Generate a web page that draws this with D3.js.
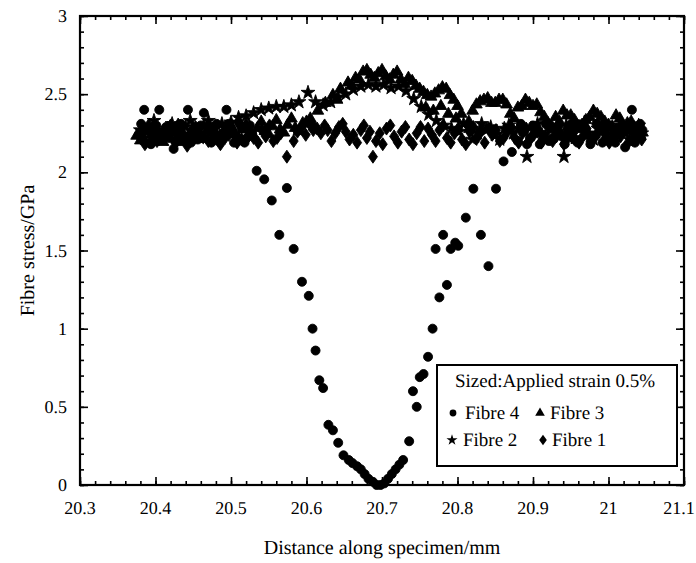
<!DOCTYPE html>
<html>
<head>
<meta charset="utf-8">
<script src="https://cdn.jsdelivr.net/npm/d3@7"></script>
<style>
  html, body { margin: 0; padding: 0; background: #fff; }
  svg { display: block; }
  text { text-rendering: geometricPrecision; }
</style>
</head>
<body>
<svg id="chart" width="696" height="563"></svg>
<script>
// Fibre stress along the specimen, sized fibres at 0.5 % applied strain.
// Each series: [distance (mm), stress (GPa)]

const fibre4 = [
  [20.378, 2.24], [20.385, 2.40], [20.390, 2.28], [20.398, 2.21], [20.405, 2.40],
  [20.410, 2.26], [20.418, 2.22], [20.424, 2.15], [20.430, 2.27], [20.437, 2.23],
  [20.443, 2.40], [20.450, 2.25], [20.456, 2.21], [20.464, 2.38], [20.470, 2.27],
  [20.477, 2.24], [20.484, 2.20], [20.494, 2.40], [20.500, 2.26], [20.507, 2.23],
  [20.514, 2.28], [20.521, 2.22], [20.528, 2.25],
  [20.381, 2.31], [20.394, 2.18], [20.401, 2.30], [20.414, 2.29], [20.427, 2.20],
  [20.434, 2.31], [20.447, 2.19], [20.460, 2.30], [20.474, 2.19], [20.481, 2.31],
  [20.490, 2.23], [20.497, 2.31], [20.504, 2.19], [20.511, 2.31], [20.518, 2.19],
  [20.525, 2.30],
  [20.534, 2.01], [20.544, 1.955], [20.554, 1.82], [20.564, 1.60], [20.574, 1.90],
  [20.583, 1.51], [20.594, 1.30], [20.603, 1.21], [20.608, 1.00], [20.612, 0.86],
  [20.617, 0.67], [20.622, 0.62], [20.629, 0.385], [20.635, 0.35], [20.642, 0.27],
  [20.649, 0.19], [20.656, 0.16], [20.661, 0.14], [20.667, 0.12], [20.672, 0.10],
  [20.677, 0.07], [20.682, 0.04], [20.688, 0.02], [20.693, 0.00], [20.698, 0.00],
  [20.703, 0.01], [20.708, 0.04], [20.713, 0.07], [20.718, 0.10], [20.723, 0.13],
  [20.728, 0.16], [20.736, 0.28], [20.741, 0.60], [20.746, 0.50], [20.750, 0.69],
  [20.755, 0.71], [20.761, 0.82], [20.767, 1.00], [20.771, 1.51], [20.776, 1.20],
  [20.781, 1.60], [20.786, 1.28], [20.791, 1.51], [20.797, 1.55], [20.801, 1.53],
  [20.811, 1.71], [20.821, 1.895], [20.831, 1.60], [20.841, 1.40], [20.851, 1.895],
  [20.861, 2.07], [20.872, 2.13],
  [20.880, 2.20], [20.888, 2.26], [20.896, 2.22], [20.905, 2.28], [20.913, 2.24],
  [20.921, 2.20], [20.930, 2.27], [20.938, 2.23], [20.946, 2.26], [20.955, 2.21],
  [20.963, 2.28], [20.971, 2.24], [20.980, 2.22], [20.988, 2.27], [20.996, 2.25],
  [21.005, 2.21], [21.013, 2.26], [21.022, 2.16], [21.031, 2.40], [21.038, 2.24],
  [21.045, 2.27],
  [20.884, 2.31], [20.892, 2.18], [20.900, 2.30], [20.909, 2.18], [20.917, 2.31],
  [20.926, 2.22], [20.934, 2.30], [20.942, 2.18], [20.951, 2.31], [20.959, 2.19],
  [20.967, 2.30], [20.976, 2.18], [20.984, 2.31], [20.992, 2.19], [21.001, 2.30],
  [21.009, 2.19], [21.017, 2.30], [21.027, 2.27], [21.035, 2.19], [21.042, 2.31]
];

const fibre3 = [
  [20.375, 2.24], [20.385, 2.27], [20.395, 2.22], [20.405, 2.26], [20.415, 2.24],
  [20.425, 2.28], [20.435, 2.23], [20.445, 2.25], [20.455, 2.27], [20.465, 2.22],
  [20.475, 2.26], [20.485, 2.24], [20.495, 2.28], [20.505, 2.25], [20.515, 2.28],
  [20.525, 2.26], [20.535, 2.29], [20.545, 2.27], [20.555, 2.30], [20.565, 2.28],
  [20.575, 2.31], [20.585, 2.29], [20.595, 2.32], [20.605, 2.35], [20.615, 2.40],
  [20.625, 2.45], [20.635, 2.50], [20.645, 2.54], [20.655, 2.58], [20.665, 2.61],
  [20.675, 2.65], [20.685, 2.63], [20.695, 2.64], [20.705, 2.62], [20.715, 2.63],
  [20.725, 2.60], [20.735, 2.61], [20.745, 2.56], [20.755, 2.52], [20.765, 2.49],
  [20.775, 2.53], [20.785, 2.54], [20.795, 2.47], [20.805, 2.38], [20.815, 2.33],
  [20.825, 2.44], [20.835, 2.47], [20.845, 2.45], [20.855, 2.47], [20.865, 2.44],
  [20.875, 2.35], [20.885, 2.43], [20.895, 2.45], [20.905, 2.44], [20.915, 2.36],
  [20.925, 2.30], [20.935, 2.33], [20.945, 2.37], [20.955, 2.34], [20.965, 2.31],
  [20.975, 2.36], [20.985, 2.38], [20.995, 2.33], [21.005, 2.30], [21.015, 2.35],
  [21.025, 2.32], [21.035, 2.29], [21.045, 2.26],
  [20.380, 2.21], [20.390, 2.30], [20.400, 2.25], [20.410, 2.20], [20.420, 2.26],
  [20.430, 2.31], [20.440, 2.20], [20.450, 2.29], [20.460, 2.24], [20.470, 2.30],
  [20.480, 2.21], [20.490, 2.27], [20.500, 2.30], [20.510, 2.22], [20.520, 2.31],
  [20.530, 2.24], [20.540, 2.33], [20.550, 2.25], [20.560, 2.34], [20.570, 2.26],
  [20.580, 2.35], [20.590, 2.27], [20.600, 2.33], [20.610, 2.30],
  [20.640, 2.47], [20.660, 2.56], [20.670, 2.60], [20.680, 2.66], [20.690, 2.61],
  [20.700, 2.66], [20.710, 2.60], [20.720, 2.65], [20.730, 2.57], [20.740, 2.59],
  [20.750, 2.54], [20.760, 2.50], [20.770, 2.51], [20.780, 2.55], [20.790, 2.50],
  [20.800, 2.43], [20.820, 2.40], [20.830, 2.46], [20.840, 2.48], [20.850, 2.45],
  [20.860, 2.47], [20.870, 2.38], [20.880, 2.42], [20.890, 2.47], [20.900, 2.43],
  [20.910, 2.39], [20.920, 2.32], [20.930, 2.36], [20.940, 2.40], [20.950, 2.37],
  [20.960, 2.30], [20.970, 2.34], [20.980, 2.40], [20.990, 2.36], [21.000, 2.31],
  [21.010, 2.37], [21.020, 2.30], [21.030, 2.33], [21.040, 2.28],
  [20.758, 2.42], [20.768, 2.40], [20.778, 2.43], [20.788, 2.38], [20.798, 2.35]
];

const fibre2 = [
  [20.380, 2.27], [20.392, 2.30], [20.404, 2.25], [20.416, 2.28], [20.428, 2.24],
  [20.440, 2.29], [20.452, 2.26], [20.464, 2.30], [20.476, 2.27], [20.488, 2.31],
  [20.500, 2.32], [20.510, 2.35], [20.520, 2.36], [20.530, 2.38], [20.540, 2.40],
  [20.550, 2.41], [20.560, 2.42], [20.570, 2.42], [20.580, 2.43], [20.590, 2.45],
  [20.602, 2.51], [20.612, 2.45], [20.622, 2.43], [20.632, 2.45], [20.642, 2.48],
  [20.652, 2.50], [20.662, 2.53], [20.672, 2.55], [20.682, 2.56], [20.692, 2.55],
  [20.702, 2.56], [20.712, 2.54], [20.722, 2.55], [20.732, 2.52], [20.742, 2.47],
  [20.752, 2.42], [20.762, 2.37], [20.772, 2.33], [20.782, 2.30], [20.792, 2.28],
  [20.802, 2.26], [20.814, 2.29], [20.826, 2.25], [20.838, 2.27], [20.850, 2.24],
  [20.862, 2.28], [20.874, 2.25], [20.892, 2.10], [20.900, 2.27], [20.912, 2.24],
  [20.924, 2.28], [20.941, 2.10], [20.950, 2.26], [20.962, 2.29], [20.974, 2.25],
  [20.986, 2.28], [20.998, 2.24], [21.010, 2.27], [21.022, 2.25], [21.034, 2.28],
  [21.044, 2.25],
  [20.386, 2.22], [20.398, 2.33], [20.410, 2.21], [20.422, 2.31], [20.434, 2.20],
  [20.446, 2.33], [20.458, 2.22], [20.470, 2.33], [20.482, 2.23], [20.494, 2.28],
  [20.808, 2.31], [20.820, 2.21], [20.832, 2.31], [20.844, 2.29], [20.856, 2.21],
  [20.868, 2.30], [20.880, 2.28], [20.906, 2.31], [20.918, 2.21], [20.930, 2.25],
  [20.944, 2.30], [20.956, 2.22], [20.968, 2.32], [20.980, 2.21], [20.992, 2.31],
  [21.004, 2.21], [21.016, 2.30], [21.028, 2.21], [21.040, 2.30]
];

const fibre1 = [
  [20.380, 2.22], [20.392, 2.26], [20.402, 2.20], [20.414, 2.24], [20.426, 2.19],
  [20.436, 2.25], [20.448, 2.21], [20.458, 2.26], [20.470, 2.20], [20.480, 2.24],
  [20.492, 2.22], [20.502, 2.27], [20.514, 2.21], [20.524, 2.24], [20.536, 2.19],
  [20.546, 2.23], [20.556, 2.20], [20.566, 2.25], [20.574, 2.10], [20.583, 2.20],
  [20.594, 2.29], [20.604, 2.31], [20.614, 2.28], [20.624, 2.30], [20.633, 2.20],
  [20.643, 2.29], [20.652, 2.26], [20.662, 2.24], [20.672, 2.27], [20.680, 2.22],
  [20.688, 2.10], [20.697, 2.25], [20.706, 2.28], [20.716, 2.23], [20.726, 2.26],
  [20.736, 2.21], [20.746, 2.25], [20.756, 2.20], [20.766, 2.24], [20.776, 2.27],
  [20.786, 2.22], [20.796, 2.25], [20.806, 2.21], [20.816, 2.26], [20.826, 2.22],
  [20.836, 2.19], [20.846, 2.24], [20.856, 2.20], [20.866, 2.26], [20.876, 2.22],
  [20.886, 2.25], [20.896, 2.21], [20.906, 2.26], [20.916, 2.23], [20.926, 2.20],
  [20.936, 2.25], [20.946, 2.22], [20.956, 2.27], [20.966, 2.23], [20.976, 2.20],
  [20.986, 2.25], [20.996, 2.22], [21.006, 2.27], [21.016, 2.23], [21.026, 2.19],
  [21.036, 2.24], [21.044, 2.21],
  [20.386, 2.18], [20.397, 2.28], [20.408, 2.23], [20.420, 2.30], [20.431, 2.21],
  [20.442, 2.17], [20.453, 2.29], [20.464, 2.23], [20.475, 2.28], [20.486, 2.18],
  [20.497, 2.24], [20.508, 2.19], [20.519, 2.29], [20.530, 2.22], [20.541, 2.27],
  [20.551, 2.30], [20.561, 2.22], [20.588, 2.26], [20.599, 2.24], [20.609, 2.27],
  [20.619, 2.25], [20.628, 2.27], [20.638, 2.25], [20.648, 2.31], [20.657, 2.21],
  [20.667, 2.19], [20.676, 2.30], [20.684, 2.26], [20.692, 2.20], [20.701, 2.18],
  [20.711, 2.30], [20.721, 2.19], [20.731, 2.29], [20.741, 2.18], [20.751, 2.29],
  [20.761, 2.28], [20.771, 2.20], [20.781, 2.30], [20.791, 2.19], [20.801, 2.28],
  [20.811, 2.18], [20.821, 2.29], [20.831, 2.26], [20.841, 2.28], [20.851, 2.27],
  [20.861, 2.22], [20.871, 2.29], [20.881, 2.19], [20.891, 2.28], [20.901, 2.24],
  [20.911, 2.19], [20.921, 2.28], [20.931, 2.23], [20.941, 2.18], [20.951, 2.23],
  [20.961, 2.19], [20.971, 2.28], [20.981, 2.22], [20.991, 2.28], [21.001, 2.19],
  [21.011, 2.25], [21.021, 2.28], [21.031, 2.21], [21.040, 2.27]
];

const xTicks = [20.3, 20.4, 20.5, 20.6, 20.7, 20.8, 20.9, 21, 21.1];
const yTicks = [0, 0.5, 1, 1.5, 2, 2.5, 3];
const legendTitle = "Sized:Applied strain 0.5%";
const xTitle = "Distance along specimen/mm";
const yTitle = "Fibre stress/GPa";

const FONT = "'Liberation Serif', 'Times New Roman', serif";
const svg = d3.select("#chart").attr("font-family", FONT);
const L = 80, R = 684, T = 16, B = 485, W = 696;

const x = d3.scaleLinear().domain([20.3, 21.1]).range([L, R]);
const y = d3.scaleLinear().domain([0, 3]).range([B, T]);

// marker shapes
const circlePath = d3.symbol().type(d3.symbolCircle).size(Math.PI * 4.5 * 4.5);
const trianglePath = d3.symbol().type(d3.symbolTriangle).size(60);
const starPath = d3.symbol().type(d3.symbolStar).size(60);
function diamondPath(w, h) {
  return `M0,${-h}L${w},0L0,${h}L${-w},0Z`;
}

const plot = svg.append("g");

function drawSeries(data, pathFn, dy) {
  plot.append("g").selectAll("path")
    .data(data)
    .join("path")
    .attr("transform", d => `translate(${x(d[0])},${y(d[1]) + (dy || 0)})`)
    .attr("d", pathFn)
    .attr("fill", "#000")
    .attr("stroke", "#000")
    .attr("stroke-width", 0.9)
    .attr("stroke-linejoin", "round");
}

drawSeries(fibre1, () => diamondPath(4.5, 6.5));
drawSeries(fibre2, () => starPath());
drawSeries(fibre3, () => trianglePath(), 1);
drawSeries(fibre4, () => circlePath());

// axes: inward ticks on all four sides
const minorX = d3.range(20.3, 21.1001, 0.02);
const minorY = d3.range(0, 3.0001, 0.1);

function addAxis(axis, tx, ty) {
  const g = svg.append("g").attr("transform", `translate(${tx},${ty})`).call(axis);
  g.select(".domain").remove();
  g.selectAll("text").remove();
  g.selectAll("line").attr("stroke", "#000").attr("stroke-width", 1.6);
  return g;
}
addAxis(d3.axisTop(x).tickValues(minorX).tickSize(4), 0, B);
addAxis(d3.axisTop(x).tickValues(xTicks).tickSize(8), 0, B);
addAxis(d3.axisBottom(x).tickValues(minorX).tickSize(4), 0, T);
addAxis(d3.axisBottom(x).tickValues(xTicks).tickSize(8), 0, T);
addAxis(d3.axisRight(y).tickValues(minorY).tickSize(4), L, 0);
addAxis(d3.axisRight(y).tickValues(yTicks).tickSize(8), L, 0);
addAxis(d3.axisLeft(y).tickValues(minorY).tickSize(4), R, 0);
addAxis(d3.axisLeft(y).tickValues(yTicks).tickSize(8), R, 0);

// frame
svg.append("rect")
  .attr("x", L).attr("y", T).attr("width", R - L).attr("height", B - T)
  .attr("fill", "none").attr("stroke", "#000").attr("stroke-width", 2.2);

function addText(parent, str, px, tx, ty, anchor, rotate) {
  const g = parent.append("g")
    .attr("transform", `translate(${tx},${ty})${rotate ? ` rotate(${rotate})` : ""}`);
  g.append("text")
    .attr("font-family", FONT).style("font-family", FONT)
    .attr("font-size", px)
    .attr("fill", "#000")
    .attr("text-anchor", anchor || "start")
    .text(str);
  return g;
}

// tick labels (last one kept inside the page edge)
const xLab = svg.append("g");
xTicks.forEach(d => addText(xLab, String(d), 18, Math.min(x(d), W - 17), B + 29, "middle"));
const yLab = svg.append("g");
yTicks.forEach(d => addText(yLab, String(d), 18, L - 13, y(d) + 6, "end"));

// axis titles
addText(svg, xTitle, 20, (L + R) / 2, 554, "middle");
addText(svg, yTitle, 20, 34, (T + B) / 2, "middle", -90);

// legend
const lg = svg.append("g");
lg.append("rect")
  .attr("x", 437).attr("y", 365).attr("width", 240).attr("height", 101)
  .attr("fill", "#fff").attr("stroke", "#000").attr("stroke-width", 2);
addText(lg, legendTitle, 19, 455, 387);

const legendItems = [
  { name: "Fibre 4", sx: 453, sy: 413, tx: 465, d: d3.symbol().type(d3.symbolCircle).size(Math.PI * 3.4 * 3.4)() },
  { name: "Fibre 3", sx: 540, sy: 413, tx: 550, d: d3.symbol().type(d3.symbolTriangle).size(40)() },
  { name: "Fibre 2", sx: 452, sy: 440, tx: 463, d: d3.symbol().type(d3.symbolStar).size(38)() },
  { name: "Fibre 1", sx: 543, sy: 440, tx: 552, d: diamondPath(3.8, 5.2) }
];
legendItems.forEach(it => {
  lg.append("path").attr("d", it.d).attr("transform", `translate(${it.sx},${it.sy})`).attr("fill", "#000");
  addText(lg, it.name, 19, it.tx, it.sy + 6);
});
</script>
</body>
</html>
